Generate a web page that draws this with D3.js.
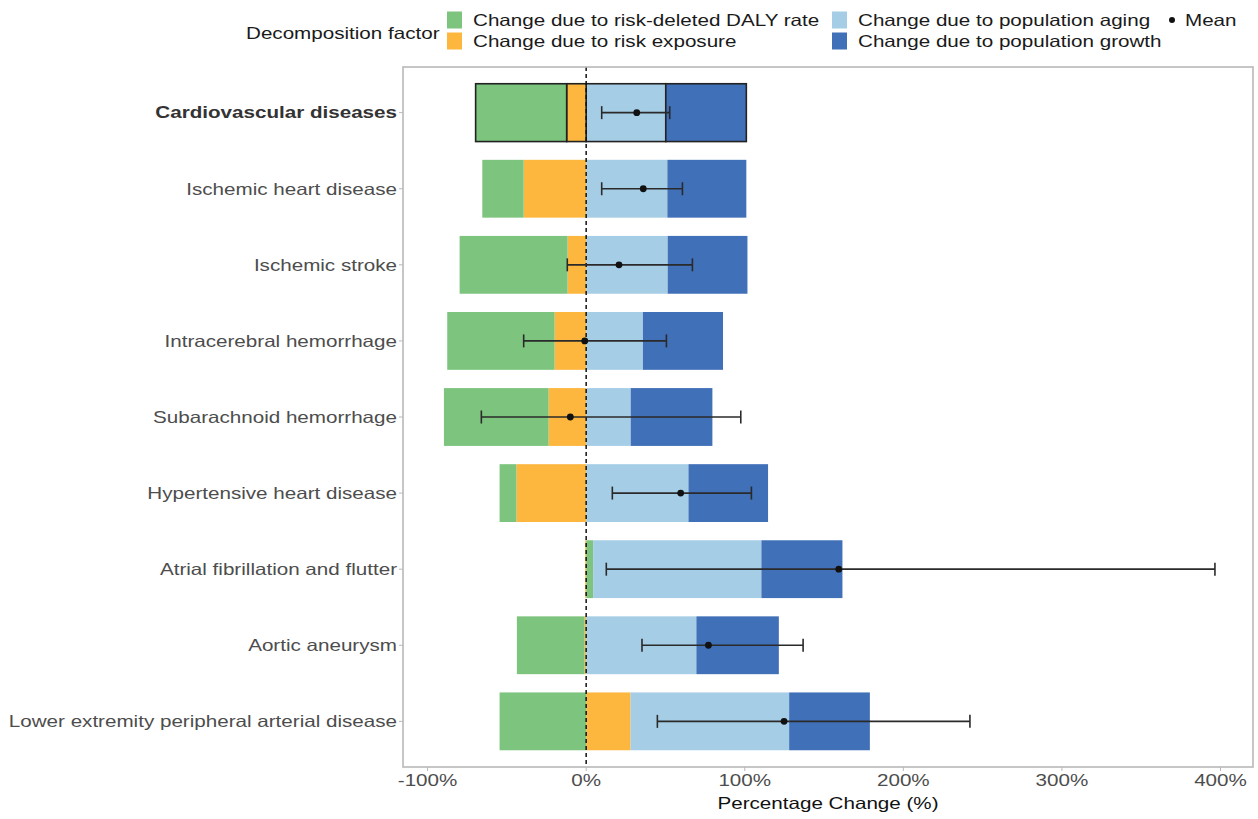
<!DOCTYPE html>
<html>
<head>
<meta charset="utf-8">
<script src="https://cdn.jsdelivr.net/npm/d3@7"></script>
<style>
  html, body { margin: 0; padding: 0; background: #fff; }
  svg { display: block; font-family: "Liberation Sans", Arial, Helvetica, sans-serif; }
</style>
</head>
<body>
<svg id="chart" width="1258" height="819"></svg>
<script>
// ---------------- data ----------------
const categories = [
  "Cardiovascular diseases",
  "Ischemic heart disease",
  "Ischemic stroke",
  "Intracerebral hemorrhage",
  "Subarachnoid hemorrhage",
  "Hypertensive heart disease",
  "Atrial fibrillation and flutter",
  "Aortic aneurysm",
  "Lower extremity peripheral arterial disease"
];
const rateChange     = [-57.4, -26.1, -68.1, -67.7, -66.0, -10.6,   4.4, -42.7, -54.6];
const exposureChange = [-12.3, -39.4, -11.7, -19.9, -23.7, -44.0,  -0.6,  -1.0,  28.0];
const agingChange    = [ 50.2,  51.2,  51.4,  35.8,  28.1,  64.5, 106.1,  69.5, 100.0];
const growthChange   = [ 50.8,  49.8,  50.3,  50.5,  51.5,  50.2,  51.1,  52.0,  50.9];
const meanChange     = [ 31.9,  36.0,  20.7,  -0.9, -10.0,  59.6, 159.3,  77.1, 124.8];
const lowerCI        = [  9.8,   9.8, -11.9, -39.4, -66.1,  16.5,  12.7,  35.2,  44.9];
const upperCI        = [ 52.7,  60.7,  67.0,  50.6,  97.5, 104.2, 396.5, 136.8, 242.0];
const xTicks = [-100, 0, 100, 200, 300, 400];
const xTickLabels = ["-100%", "0%", "100%", "200%", "300%", "400%"];
const factorLabels = [
  "Change due to risk-deleted DALY rate",
  "Change due to risk exposure",
  "Change due to population aging",
  "Change due to population growth"
];
const factorColors = ["#7dc47e", "#fdb73f", "#a6cde6", "#4070b8"];
const highlighted = "Cardiovascular diseases";

// ---------------- layout ----------------
const panel = { left: 403, right: 1253, top: 67, bottom: 767 };
const FS = 16.5, SX = 1.25;

const svg = d3.select("#chart");

const x = d3.scaleLinear().domain([-115.5, 420.5]).range([panel.left, panel.right]);
const y = d3.scalePoint().domain(categories).range([panel.top, panel.bottom]).padding(0.6);
const barH = y.step() * 0.76;

function txt(g, px, py, str, o = {}) {
  return g.append("text")
    .attr("transform", `translate(${px},${py}) scale(${SX},1)`)
    .attr("text-anchor", o.anchor || "start")
    .attr("dy", "0.35em")
    .attr("font-size", o.size || FS)
    .attr("font-weight", o.weight || "normal")
    .attr("fill", o.fill || "#4d4d4d")
    .text(str);
}

// ---------------- stacked segments ----------------
const series = [rateChange, exposureChange, agingChange, growthChange];
const posOrder = [0, 1, 2, 3];
const negOrder = [1, 0, 2, 3];
const segments = [];
categories.forEach((cat, i) => {
  let pos = 0, neg = 0;
  posOrder.forEach(k => {
    const v = series[k][i];
    if (v > 0) { segments.push({ cat, k, x0: pos, x1: pos + v }); pos += v; }
  });
  negOrder.forEach(k => {
    const v = series[k][i];
    if (v < 0) { segments.push({ cat, k, x0: neg + v, x1: neg }); neg += v; }
  });
});

const gPlot = svg.append("g");
gPlot.selectAll("rect.seg").data(segments).join("rect")
  .attr("class", "seg")
  .attr("x", d => x(d.x0))
  .attr("width", d => x(d.x1) - x(d.x0))
  .attr("y", d => y(d.cat) - barH / 2)
  .attr("height", barH)
  .attr("fill", d => factorColors[d.k])
  .attr("stroke", d => d.cat === highlighted ? "#222" : "none")
  .attr("stroke-width", 1.6);

// zero line
gPlot.append("line")
  .attr("x1", x(0)).attr("x2", x(0))
  .attr("y1", panel.top).attr("y2", panel.bottom)
  .attr("stroke", "#111").attr("stroke-width", 1.5)
  .attr("stroke-dasharray", "4,3");

// error bars
const cap = 6.5;
const eb = gPlot.selectAll("g.eb").data(categories).join("g").attr("class", "eb");
eb.append("line")
  .attr("x1", (d, i) => x(lowerCI[i])).attr("x2", (d, i) => x(upperCI[i]))
  .attr("y1", d => y(d)).attr("y2", d => y(d))
  .attr("stroke", "#2a2a2a").attr("stroke-width", 1.6);
eb.append("line")
  .attr("x1", (d, i) => x(lowerCI[i])).attr("x2", (d, i) => x(lowerCI[i]))
  .attr("y1", d => y(d) - cap).attr("y2", d => y(d) + cap)
  .attr("stroke", "#2a2a2a").attr("stroke-width", 1.6);
eb.append("line")
  .attr("x1", (d, i) => x(upperCI[i])).attr("x2", (d, i) => x(upperCI[i]))
  .attr("y1", d => y(d) - cap).attr("y2", d => y(d) + cap)
  .attr("stroke", "#2a2a2a").attr("stroke-width", 1.6);
eb.append("circle")
  .attr("cx", (d, i) => x(meanChange[i])).attr("cy", d => y(d))
  .attr("r", 3.4).attr("fill", "#111");

// panel border
svg.append("rect")
  .attr("x", panel.left).attr("y", panel.top)
  .attr("width", panel.right - panel.left).attr("height", panel.bottom - panel.top)
  .attr("fill", "none").attr("stroke", "#b8b8b8").attr("stroke-width", 1.6);

// ---------------- axes ----------------
const gy = svg.append("g");
categories.forEach(c => {
  gy.append("line").attr("x1", panel.left - 4).attr("x2", panel.left)
    .attr("y1", y(c)).attr("y2", y(c)).attr("stroke", "#b8b8b8").attr("stroke-width", 1);
  txt(gy, panel.left - 6, y(c), c, {
    anchor: "end",
    weight: c === highlighted ? "bold" : "normal",
    fill: c === highlighted ? "#333" : "#4d4d4d"
  });
});

const gx = svg.append("g");
xTicks.forEach((t, i) => {
  gx.append("line").attr("x1", x(t)).attr("x2", x(t))
    .attr("y1", panel.bottom).attr("y2", panel.bottom + 4)
    .attr("stroke", "#b8b8b8").attr("stroke-width", 1);
  txt(gx, x(t), panel.bottom + 13, xTickLabels[i], { anchor: "middle" });
});
txt(svg, (panel.left + panel.right) / 2, 803, "Percentage Change (%)", { anchor: "middle", fill: "#111" });

// ---------------- legend ----------------
const lg = svg.append("g");
txt(lg, 246, 33, "Decomposition factor", { fill: "#1a1a1a" });
const keyPos = [
  { kx: 447, ty: 20 }, { kx: 447, ty: 41 },
  { kx: 832, ty: 20 }, { kx: 832, ty: 41 }
];
factorLabels.forEach((lab, k) => {
  const p = keyPos[k];
  lg.append("rect").attr("x", p.kx).attr("y", p.ty - 8.5)
    .attr("width", 15).attr("height", 17).attr("fill", factorColors[k]);
  txt(lg, p.kx + 26, p.ty, lab, { fill: "#1a1a1a" });
});
lg.append("circle").attr("cx", 1172).attr("cy", 20).attr("r", 3).attr("fill", "#111");
txt(lg, 1185, 20, "Mean", { fill: "#1a1a1a" });
</script>
</body>
</html>
